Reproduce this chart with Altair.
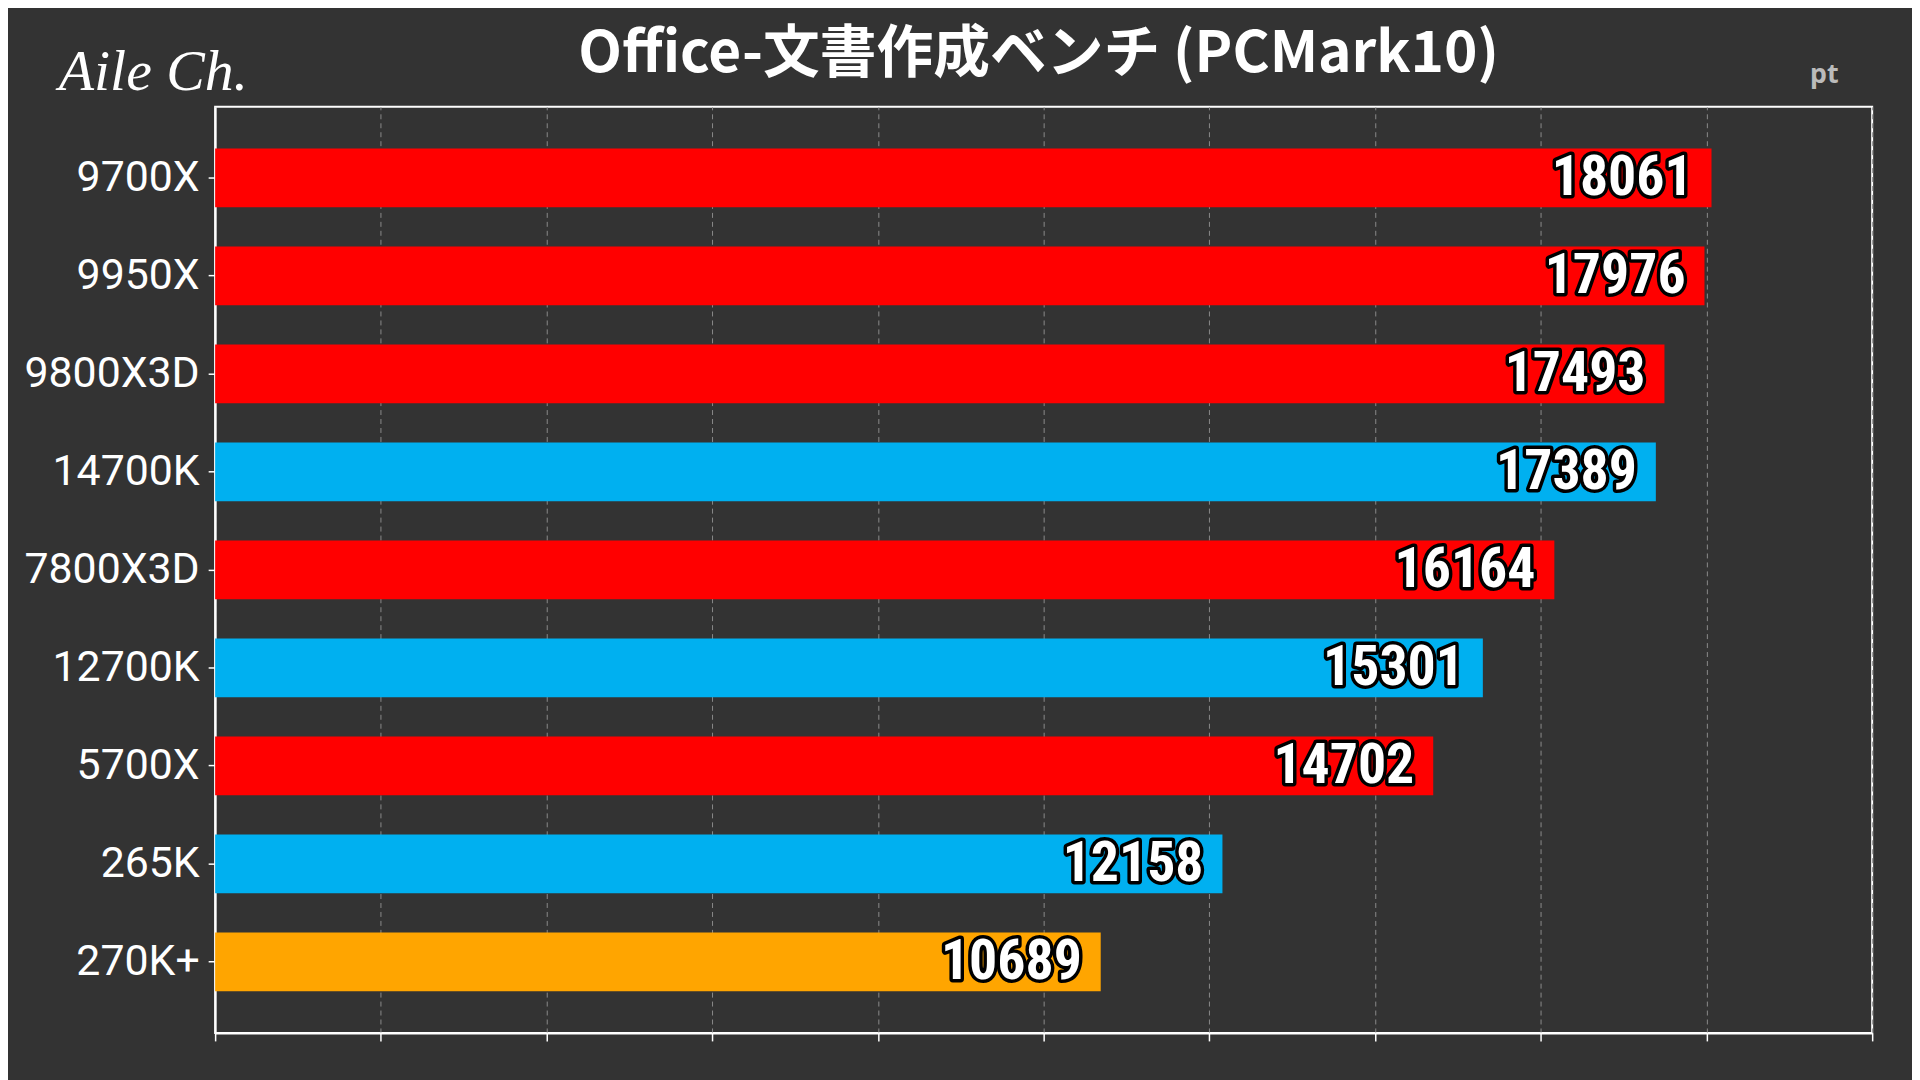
import altair as alt
import pandas as pd

cpus = ["9700X", "9950X", "9800X3D", "14700K", "7800X3D", "12700K", "5700X", "265K", "270K+"]
scores = [18061, 17976, 17493, 17389, 16164, 15301, 14702, 12158, 10689]
groups = ["AMD", "AMD", "AMD", "Intel", "AMD", "Intel", "AMD", "Intel", "Highlight"]
group_names = ["AMD", "Intel", "Highlight"]
group_colors = ["#FF0000", "#00B0F0", "#FFA500"]
x_ticks = list(range(0, 20001, 2000))
title_text = "Office-文書作成ベンチ (PCMark10)"
unit_text = "pt"
brand_text = "Aile Ch."

df = pd.DataFrame({"cpu": cpus, "score": scores, "group": groups})

W, H = 1664, 930
BG = "#333333"

x_enc = alt.X(
    "score:Q",
    scale=alt.Scale(domain=[0, 20000], nice=False, zero=True),
    axis=alt.Axis(values=x_ticks, labels=False, title=None, grid=True,
                  gridColor="#8a8a8a", gridDash=[5, 4], gridWidth=1,
                  domainColor="white", domainWidth=2,
                  tickColor="white", tickSize=8, tickWidth=1.5),
)
y_enc = alt.Y(
    "cpu:N", sort=cpus,
    scale=alt.Scale(paddingInner=0.4, paddingOuter=0.425),
    axis=alt.Axis(title=None, labelFont="Roboto", labelFontSize=43,
                  labelColor="white", tickColor="white", tickSize=7,
                  tickWidth=1.5, labelPadding=9, domainColor="white",
                  domainWidth=2, grid=False),
)

base = alt.Chart(df)

bars = base.mark_bar().encode(
    x=x_enc, y=y_enc,
    color=alt.Color("group:N", scale=alt.Scale(domain=group_names, range=group_colors), legend=None),
)

label_font = "Roboto Condensed, DejaVu Sans Condensed, Roboto"
outline = base.mark_text(
    align="right", baseline="middle", dx=-19, font=label_font, fontSize=56,
    fontWeight="bold", fill="black", stroke="black", strokeWidth=7, strokeJoin="round",
).encode(x="score:Q", y=alt.Y("cpu:N", sort=cpus), text=alt.Text("score:Q", format="d"))

labels = base.mark_text(
    align="right", baseline="middle", dx=-19, font=label_font, fontSize=56,
    fontWeight="bold", fill="white",
).encode(x="score:Q", y=alt.Y("cpu:N", sort=cpus), text=alt.Text("score:Q", format="d"))

title = alt.Chart(pd.DataFrame({"t": [title_text]})).mark_text(
    align="center", baseline="middle", font="Noto Sans CJK JP", fontSize=57,
    fontWeight="bold", color="white",
).encode(x=alt.value(827), y=alt.value(-52), text="t:N")

unit = alt.Chart(pd.DataFrame({"t": [unit_text]})).mark_text(
    align="center", baseline="middle", font="Noto Sans", fontSize=27,
    fontWeight="bold", color="#bbbbbb",
).encode(x=alt.value(1616), y=alt.value(-32), text="t:N")

brand = alt.Chart(pd.DataFrame({"t": [brand_text]})).mark_text(
    align="left", baseline="alphabetic", font="Liberation Serif", fontSize=58,
    fontStyle="italic", color="white",
).encode(x=alt.value(-157), y=alt.value(-17), text="t:N")

chart = alt.layer(bars, outline, labels, title, unit, brand).properties(
    width=W, height=H,
    padding={"left": 208, "top": 97, "right": 40, "bottom": 45},
    autosize=alt.AutoSizeParams(type="none"),
).configure(background=BG).configure_view(stroke="white", strokeWidth=2)

chart.save("out.html", embed_options={"renderer": "svg", "actions": False})
